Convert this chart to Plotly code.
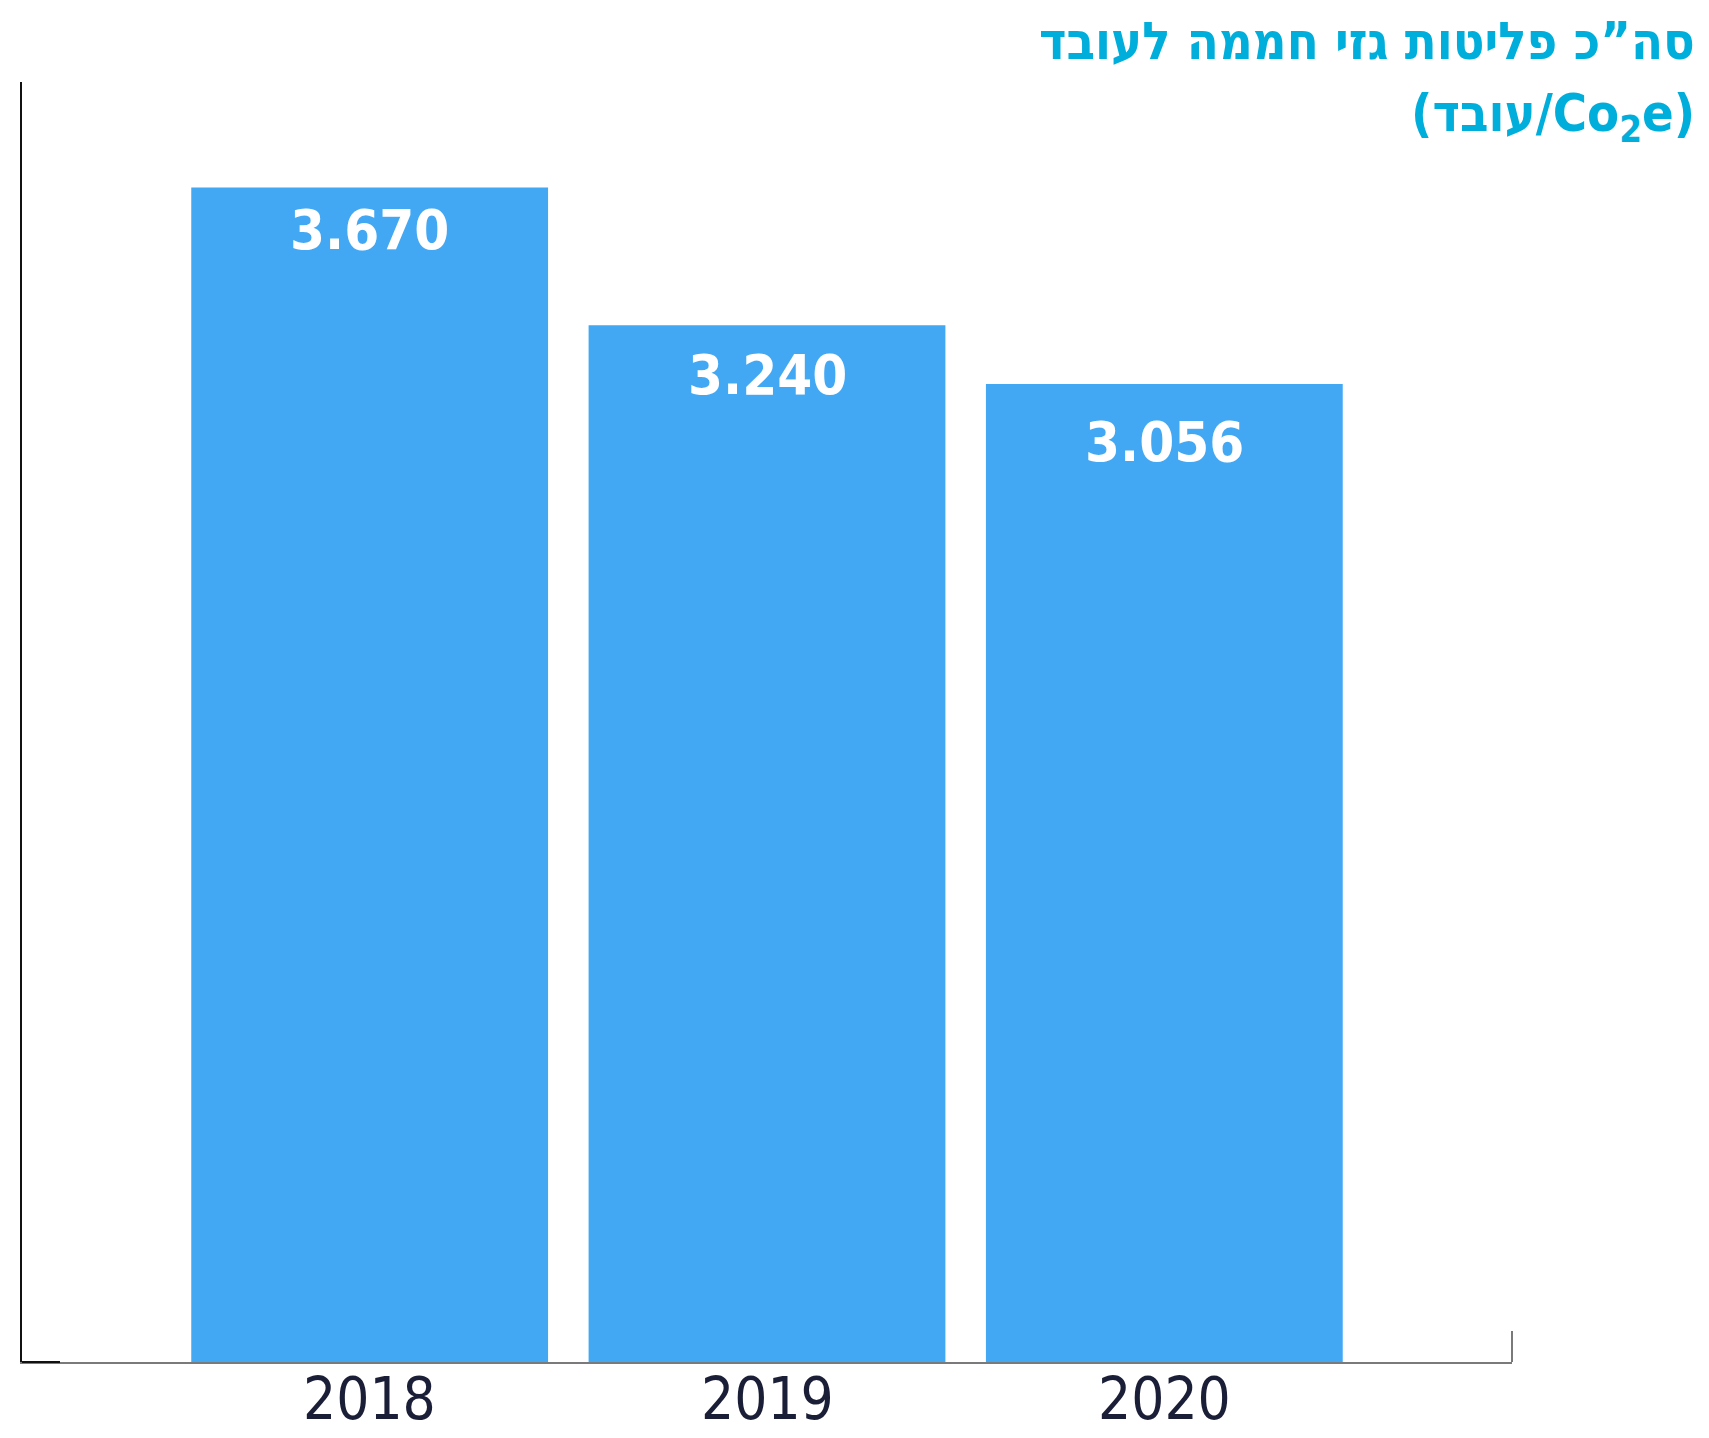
import plotly.graph_objects as go

# Greenhouse-gas emissions per employee, by year
years = ["2018", "2019", "2020"]
emissions = [3.670, 3.240, 3.056]
value_labels = ["3.670", "3.240", "3.056"]

title_line1 = "סה”כ פליטות גזי חממה לעובד"
title_line2 = "(עובד/Co<sub>2</sub>e)"

BAR_COLOR = "#42A8F4"
TITLE_COLOR = "#00AEDB"
YEAR_COLOR = "#1A1E36"
FONT = "DejaVu Sans Condensed, Liberation Sans Narrow, DejaVu Sans, sans-serif"

# pixel offsets of the value labels below each bar top
label_shift = [-7, -15, -23]

fig = go.Figure()
fig.add_trace(go.Bar(
    x=list(range(len(years))),
    y=emissions,
    width=0.898,
    marker=dict(color=BAR_COLOR, line=dict(width=0)),
    hoverinfo="skip",
))

# value labels inside the bars
for i, (v, lab) in enumerate(zip(emissions, value_labels)):
    fig.add_annotation(
        x=i, y=v, text=f"<b>{lab}</b>", showarrow=False,
        xanchor="center", yanchor="top", yshift=label_shift[i],
        font=dict(family=FONT, size=56, color="white"),
    )

# year labels under the axis
for i, yr in enumerate(years):
    fig.add_annotation(
        x=i, xref="x", y=0, yref="paper", text=yr, showarrow=False,
        xanchor="center", yanchor="top", yshift=-1,
        font=dict(family=FONT, size=58, color=YEAR_COLOR),
    )

# two-line title, right aligned above the plot
fig.add_annotation(
    xref="paper", yref="paper", x=1.124, y=1.0, xanchor="right", yanchor="top",
    text=f"<b>{title_line1}</b>", align="right", showarrow=False, yshift=73,
    font=dict(family=FONT, size=52, color=TITLE_COLOR),
)
fig.add_annotation(
    xref="paper", yref="paper", x=1.124, y=1.0, xanchor="right", yanchor="top",
    text=f"<b>{title_line2}</b>", align="right", showarrow=False, yshift=1,
    font=dict(family=FONT, size=52, color=TITLE_COLOR),
)

# short dark stub at the bottom-left corner and end tick on the right
fig.add_shape(type="line", xref="paper", yref="paper", x0=0, x1=0.0255, y0=0, y1=0,
              line=dict(color="#111111", width=2))
fig.add_shape(type="line", xref="paper", yref="y", x0=1, x1=1, y0=0, y1=0.097,
              line=dict(color="#7A7A7A", width=2))

fig.update_layout(
    width=1709, height=1438,
    margin=dict(l=22, r=197, t=82, b=76, autoexpand=False),
    paper_bgcolor="white", plot_bgcolor="white",
    showlegend=False,
    xaxis=dict(
        range=[-0.875, 2.875],
        showticklabels=False,
        showgrid=False, zeroline=False,
        showline=True, linecolor="#7A7A7A", linewidth=2,
        ticks="", automargin=False,
        fixedrange=True,
    ),
    yaxis=dict(
        range=[0, 4], showgrid=False, zeroline=False,
        showticklabels=False, ticks="", automargin=False,
        showline=True, linecolor="#111111", linewidth=2,
        fixedrange=True,
    ),
)

fig.write_html("out.html")
